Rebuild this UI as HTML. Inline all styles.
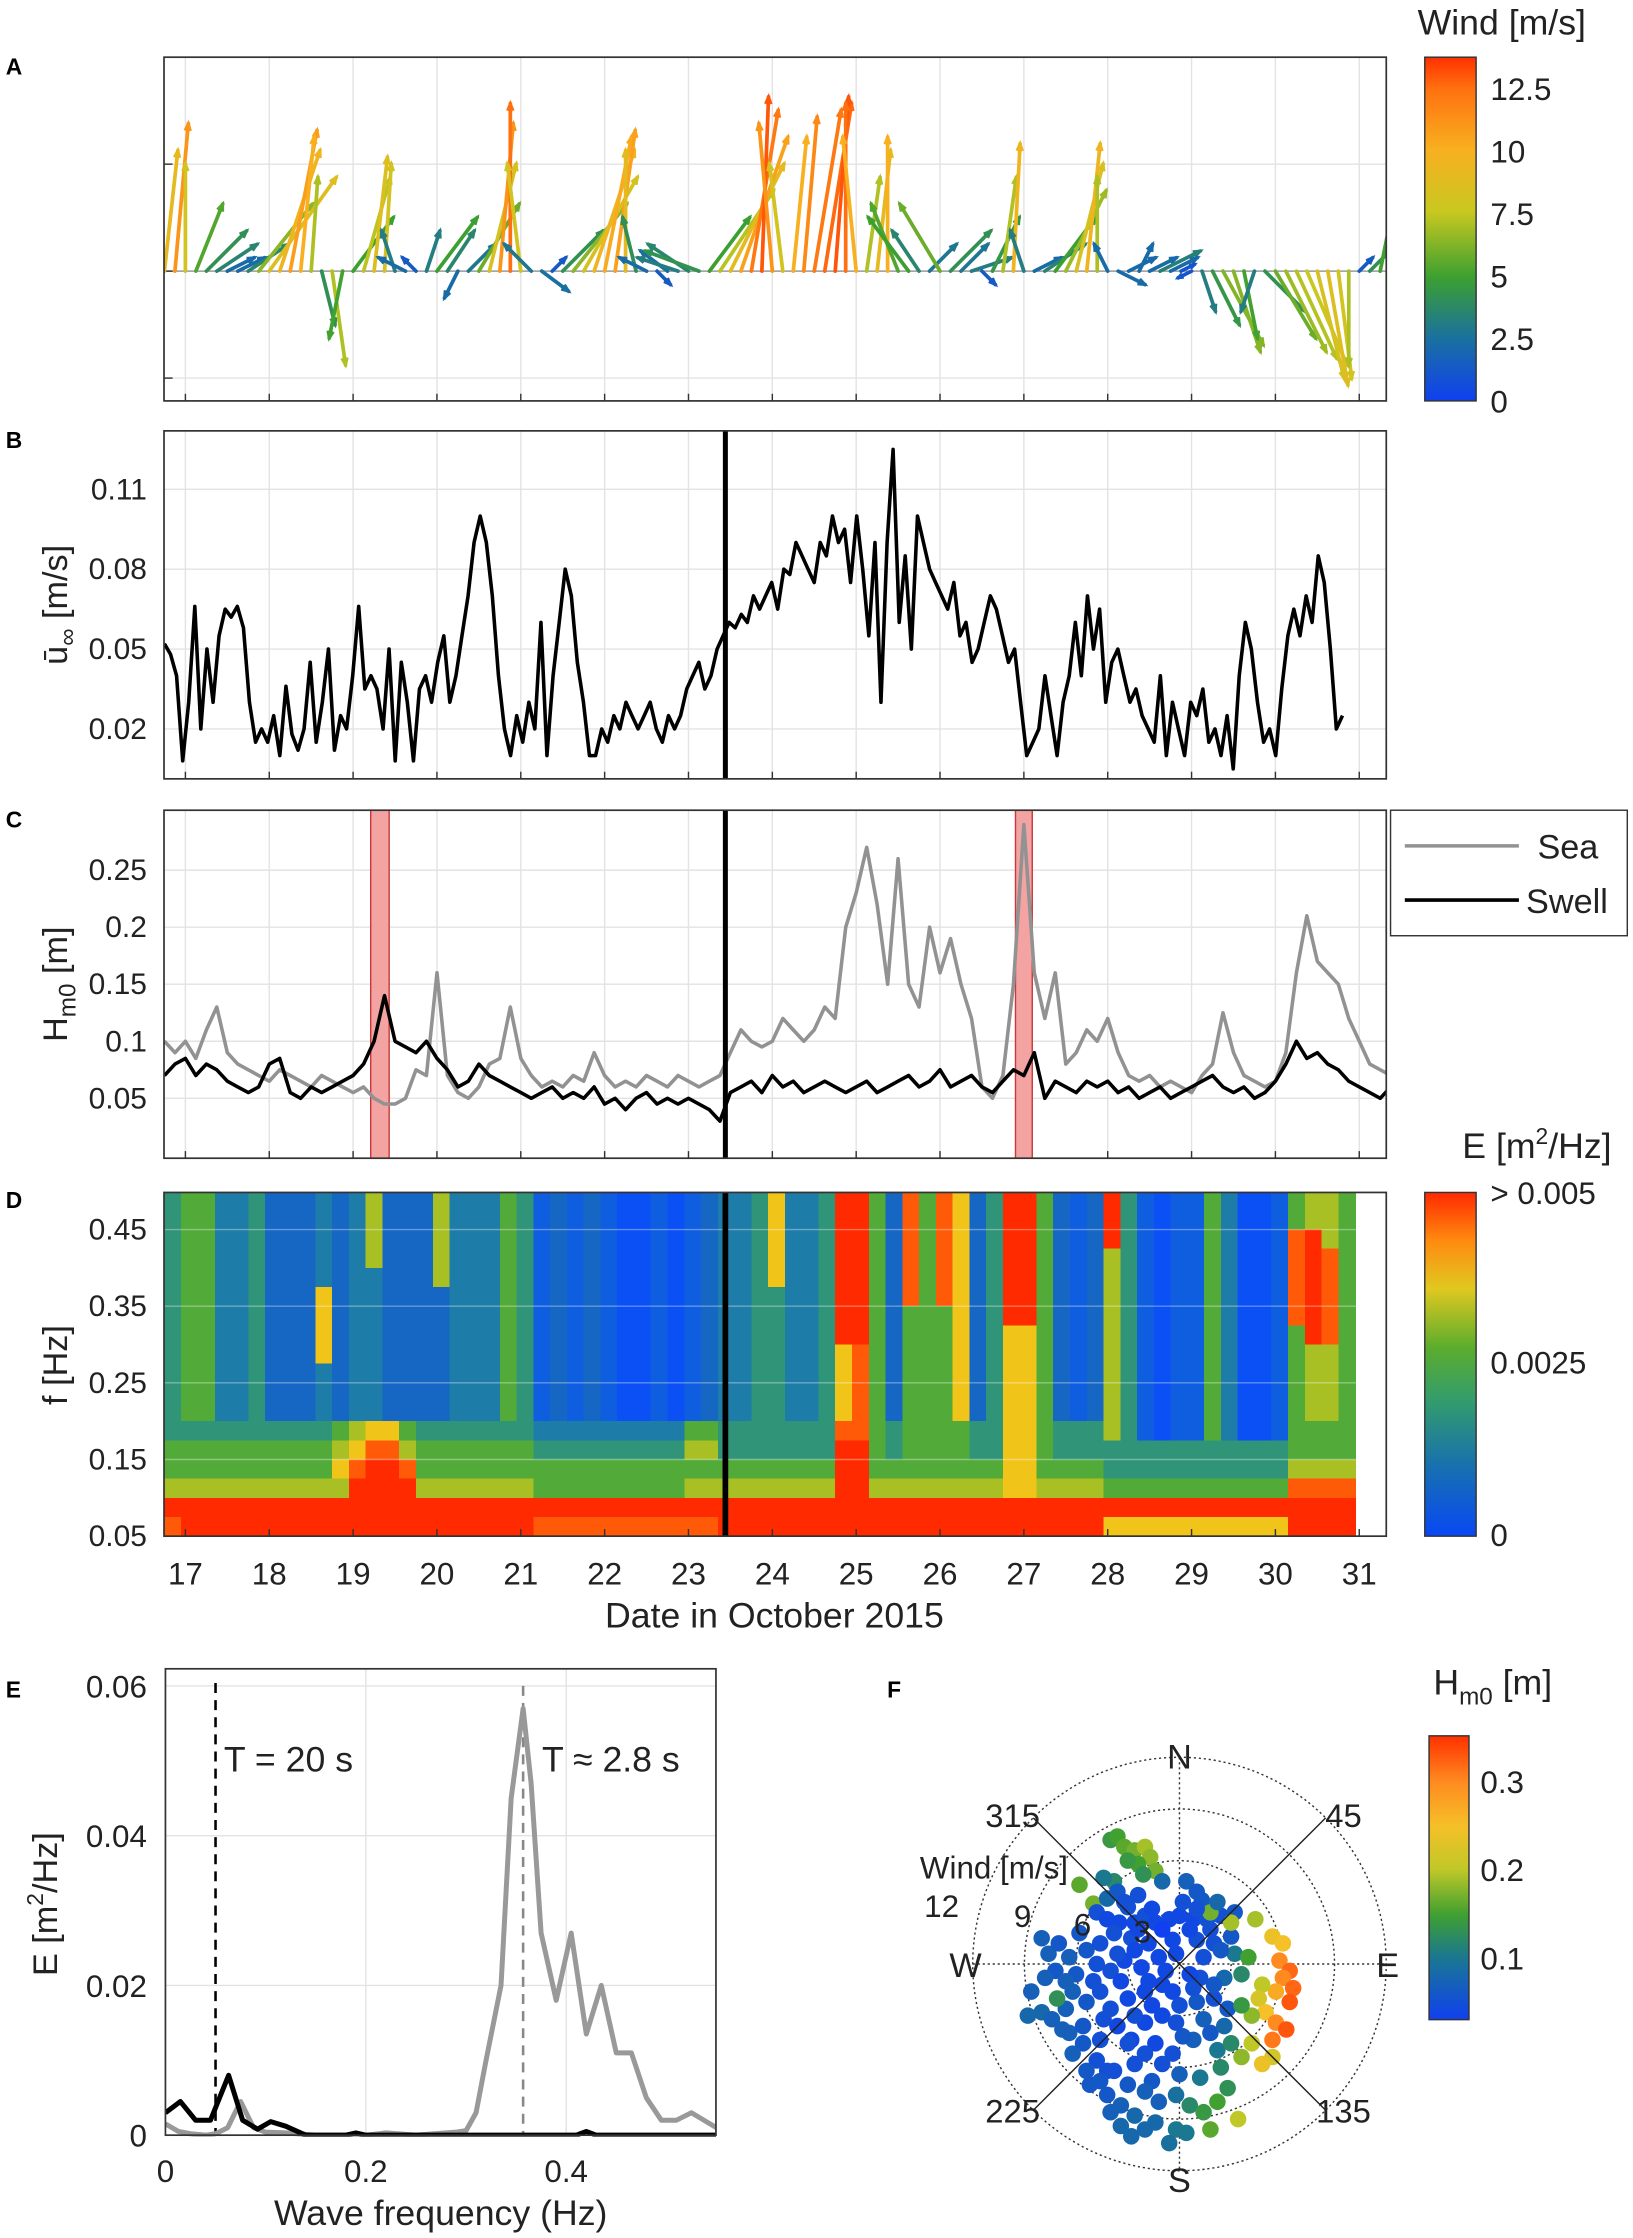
<!DOCTYPE html>
<html><head><meta charset="utf-8"><title>Wind, currents and waves, October 2015</title>
<style>
html,body{margin:0;padding:0;background:#fff;}
svg{display:block;font-family:"Liberation Sans",Arial,sans-serif;}
</style></head>
<body>
<svg id="fig" xmlns="http://www.w3.org/2000/svg" width="1633" height="2238" viewBox="0 0 1145 1569">
<defs>
<linearGradient id="gWind" x1="0" y1="1" x2="0" y2="0">
<stop offset="0" stop-color="#1040f0"/><stop offset="0.18" stop-color="#1a70a0"/><stop offset="0.36" stop-color="#3ca030"/><stop offset="0.55" stop-color="#c8c820"/><stop offset="0.73" stop-color="#f8b020"/><stop offset="0.91" stop-color="#ff7010"/><stop offset="1" stop-color="#ff3000"/>
</linearGradient>
<linearGradient id="gE" x1="0" y1="1" x2="0" y2="0">
<stop offset="0" stop-color="#0848f5"/><stop offset="0.2" stop-color="#1770b0"/><stop offset="0.4" stop-color="#349d6a"/><stop offset="0.55" stop-color="#5cad2c"/><stop offset="0.72" stop-color="#e0c820"/><stop offset="0.86" stop-color="#ff8a10"/><stop offset="1" stop-color="#ff2a00"/>
</linearGradient>
<linearGradient id="gH" x1="0" y1="1" x2="0" y2="0">
<stop offset="0" stop-color="#1040f0"/><stop offset="0.22" stop-color="#1a7890"/><stop offset="0.37" stop-color="#40a030"/><stop offset="0.53" stop-color="#c0c828"/><stop offset="0.68" stop-color="#f5c028"/><stop offset="0.84" stop-color="#ff8a20"/><stop offset="1" stop-color="#ff3000"/>
</linearGradient>
<clipPath id="clipA"><rect x="115" y="40" width="857" height="241"/></clipPath>
<clipPath id="clipB"><rect x="115" y="302" width="857" height="244"/></clipPath>
<clipPath id="clipC"><rect x="115" y="568" width="857" height="244"/></clipPath>
<clipPath id="clipD"><rect x="115" y="836" width="857" height="241"/></clipPath>
<clipPath id="clipE"><rect x="116" y="1170" width="386" height="328"/></clipPath>
</defs>

<text x="4" y="52" font-size="16" font-weight="bold">A</text>
<text x="4" y="314" font-size="16" font-weight="bold">B</text>
<text x="4" y="580" font-size="16" font-weight="bold">C</text>
<text x="4" y="847" font-size="16" font-weight="bold">D</text>
<text x="4" y="1190" font-size="16" font-weight="bold">E</text>
<text x="622" y="1190" font-size="16" font-weight="bold">F</text>

<text x="1112" y="24" font-size="25" text-anchor="end" fill="#222">Wind [m/s]</text>
<text x="1130" y="812" font-size="25" text-anchor="end" fill="#222">E [m<tspan font-size="16" dy="-10">2</tspan><tspan dy="10">/Hz]</tspan></text>
<text x="1005" y="1188" font-size="25" fill="#222">H<tspan font-size="17" dy="7">m0</tspan><tspan dy="-7"> [m]</tspan></text>

<text transform="translate(47,424) rotate(-90)" font-size="24" text-anchor="middle" fill="#222">u&#772;<tspan font-size="17" dy="6">∞</tspan><tspan dy="-6"> [m/s]</tspan></text>
<text transform="translate(47,690) rotate(-90)" font-size="24" text-anchor="middle" fill="#222">H<tspan font-size="17" dy="6">m0</tspan><tspan dy="-6"> [m]</tspan></text>
<text transform="translate(47,957) rotate(-90)" font-size="24" text-anchor="middle" fill="#222">f [Hz]</text>
<text x="543" y="1141" font-size="25" text-anchor="middle" fill="#222">Date in October 2015</text>
<text transform="translate(40,1335) rotate(-90)" font-size="24" text-anchor="middle" fill="#222">E [m<tspan font-size="16" dy="-10">2</tspan><tspan dy="10">/Hz]</tspan></text>
<text x="309" y="1560" font-size="25" text-anchor="middle" fill="#222">Wave frequency (Hz)</text>

<g id="layer"></g>
</svg>

<script>
// ---------------- DATA ----------------
const windStart = 16.75;
const windStep = 0.125;
const windU = [1,1,0,2,3,3,2,2,3,4,5,3,2,1,0.5,1,1,-1,3,2,1,0.5,-1,-2,-1,1,3,2,-1,2,3,2,1,0,-1,-2,2,1,3,4,4,3,2,1.5,0,-1,-2,1,-2,-3,-3,-4,3,4,4,3.5,2,0.5,-1,-1,1,1,2,2,1,0,-1,1,1,0,-2,-3,-2,2,-3,3,2,3,1,2,1,0.5,-1,2,3,3,3,2,1,0,-1,2,2,1,2,3,2,1,-1,1,2,3,2,1,-1,3,3,3,3,3,2,1.5,1,0,1,3,1];
const windV = [9,11,8,5,3,2,1,1,2,5,7,9,10.5,10,7,-4,-7,-5,4,7,8.5,8,3,1,1,3,4,3,-2,2,5,8,11,12.5,8,2,-1.5,1,3,5,7,9,10,10.5,9,4,1,-1,1.5,1,2,1.5,4,6,8,10,12,13,11,8,10,11.5,12,12.5,13,12.5,10,7,9,10,5,4,3,2,5,3,2,1,-1,4,7,9.5,3,1,2,4,6,8,9.5,7,2,-1,1,2,1,1.5,1,0.5,-0.5,-3,-4,-5.5,-6,-5,-3,-3,-5,-6,-6.5,-7,-8,-8.5,-8,-7,1,3,5];

const curStart = 16.75;
const curEnd = 30.8;
const curSpeed = [0.052,0.048,0.040,0.008,0.030,0.066,0.020,0.050,0.030,0.055,0.065,0.062,0.066,0.058,0.030,0.015,
0.020,0.015,0.025,0.010,0.036,0.018,0.012,0.020,0.045,0.015,0.030,0.050,0.012,0.025,
0.020,0.040,0.066,0.035,0.040,0.035,0.020,0.050,0.008,0.045,0.030,0.008,
0.035,0.040,0.030,0.045,0.055,0.030,0.040,0.055,0.070,0.090,0.100,0.090,0.070,0.040,
0.020,0.010,0.025,0.015,0.030,0.020,0.060,0.010,0.040,0.060,0.080,0.070,0.045,0.030,0.010,
0.010,0.020,0.015,0.025,0.020,0.030,0.025,0.020,0.025,0.030,0.020,0.015,0.025,0.020,
0.025,0.035,0.040,0.045,0.035,0.040,0.050,0.055,0.060,0.058,0.063,0.060,0.070,0.065,
0.070,0.075,0.065,0.080,0.078,0.090,0.085,0.080,0.075,0.090,0.085,0.100,0.090,0.095,
0.075,0.100,0.080,0.055,0.090,0.030,0.090,0.125,0.060,0.085,0.050,0.100,0.090,0.080,0.075,
0.070,0.065,0.075,0.055,0.060,0.045,0.050,0.060,0.070,0.065,0.055,0.045,0.050,0.030,
0.010,0.015,0.020,0.040,0.025,0.010,0.030,0.040,0.060,0.040,0.070,0.050,0.065,0.030,
0.045,0.050,0.040,0.030,0.035,0.025,0.020,0.015,0.040,0.010,0.030,0.020,0.010,0.030,
0.025,0.035,0.015,0.020,0.010,0.025,0.005,0.040,0.060,0.050,0.030,0.015,0.020,0.010,
0.035,0.055,0.065,0.055,0.070,0.060,0.085,0.075,0.050,0.020,0.025];
const curTicks = [0.02,0.05,0.08,0.11];

const hsStart = 16.75;
const hsStep = 0.125;
const hsSea = [0.10,0.09,0.10,0.085,0.11,0.13,0.09,0.08,0.075,0.07,0.065,0.075,0.07,0.065,0.06,0.07,0.065,0.06,0.055,0.06,0.05,0.045,0.045,0.05,0.075,0.07,0.16,0.07,0.055,0.05,0.06,0.08,0.085,0.13,0.085,0.07,0.06,0.065,0.06,0.07,0.065,0.09,0.07,0.06,0.065,0.06,0.07,0.065,0.06,0.07,0.065,0.06,0.065,0.07,0.09,0.11,0.1,0.095,0.1,0.12,0.11,0.1,0.11,0.13,0.12,0.2,0.23,0.27,0.22,0.15,0.26,0.15,0.13,0.2,0.16,0.19,0.15,0.12,0.06,0.05,0.07,0.15,0.29,0.16,0.12,0.16,0.08,0.09,0.11,0.1,0.12,0.09,0.07,0.065,0.07,0.06,0.065,0.06,0.055,0.07,0.08,0.125,0.09,0.07,0.065,0.06,0.065,0.09,0.16,0.21,0.17,0.16,0.15,0.12,0.1,0.08,0.075,0.07];
const hsSwell = [0.07,0.08,0.085,0.07,0.08,0.075,0.065,0.06,0.055,0.06,0.08,0.085,0.055,0.05,0.06,0.055,0.06,0.065,0.07,0.08,0.1,0.14,0.1,0.095,0.09,0.1,0.085,0.075,0.06,0.065,0.08,0.07,0.065,0.06,0.055,0.05,0.055,0.06,0.05,0.055,0.05,0.06,0.045,0.05,0.04,0.05,0.055,0.045,0.05,0.045,0.05,0.045,0.04,0.03,0.055,0.06,0.065,0.055,0.07,0.06,0.065,0.055,0.06,0.065,0.06,0.055,0.06,0.065,0.055,0.06,0.065,0.07,0.06,0.065,0.075,0.06,0.065,0.07,0.06,0.055,0.065,0.075,0.07,0.09,0.05,0.065,0.06,0.055,0.065,0.06,0.065,0.055,0.06,0.05,0.055,0.06,0.05,0.055,0.06,0.065,0.07,0.06,0.055,0.06,0.05,0.055,0.065,0.08,0.1,0.085,0.09,0.08,0.075,0.065,0.06,0.055,0.05,0.06];
const hsTicks = [0.05,0.1,0.15,0.2,0.25];
const stormWindows = [[19.21,19.43],[26.9,27.1]];
const markerDay = 23.44;

// Panel D: spectrogram levels (0..9), 0.2-day columns (71), 0.025 Hz rows, top row first
const specStart = 16.75;
const specColDays = 0.2;
const specFmin = 0.05;
const specRowHz = 0.025;
const specRows = [
"4553342223"+"2362226333"+"5412121001"+"0123347334"+"9952858724"+"9952129410"+"1153001566"+"5",
"4553342223"+"2362226333"+"5412121001"+"0123347334"+"9952858724"+"9952129410"+"1153001566"+"5",
"4553342223"+"2362226333"+"5412121001"+"0123347334"+"9952858724"+"9952129410"+"1153001896"+"5",
"4553342223"+"2362226333"+"5412121001"+"0123347334"+"9952858724"+"9952126410"+"1153001898"+"5",
"4553342223"+"2332226333"+"5412121001"+"0123347334"+"9952858724"+"9952126410"+"1153001898"+"5",
"4553342227"+"2332222333"+"5412121001"+"0123344334"+"9952858724"+"9952126410"+"1153001898"+"5",
"4553342227"+"2332222333"+"5412121001"+"0123344334"+"9952555724"+"9952126410"+"1153001898"+"5",
"4553342227"+"2332222333"+"5412121001"+"0123344334"+"9952555724"+"7752126410"+"1153001598"+"5",
"4553342227"+"2332222333"+"5412121001"+"0123344334"+"7852555724"+"7752126410"+"1153001566"+"5",
"4553342223"+"2332222333"+"5412121001"+"0123344334"+"7852555724"+"7752126410"+"1153001566"+"5",
"4553342223"+"2332222333"+"5412121001"+"0123344334"+"7852555724"+"7752126410"+"1153001566"+"5",
"4553342223"+"2332222333"+"5412121001"+"0123344334"+"7852555724"+"7752126410"+"1153001566"+"5",
"4444444444"+"5677544444"+"4433333333"+"3554444444"+"8854555544"+"7754446410"+"1153001555"+"5",
"5555555555"+"6788655555"+"5544444444"+"4664444444"+"9954555544"+"7754444444"+"4444444555"+"5",
"5555555555"+"7899855555"+"5555555555"+"5555555555"+"9955555555"+"7755554444"+"4444444666"+"6",
"6666666666"+"6999966666"+"6655555555"+"5666666666"+"9966666666"+"7766665555"+"5555555888"+"8",
"9999999999"+"9999999999"+"9999999999"+"9999999999"+"9999999999"+"9999999999"+"9999999999"+"9",
"8999999999"+"9999999999"+"9988888888"+"8889999999"+"9999999999"+"9999997777"+"7777777999"+"9"
];
const energyTicks = ["> 0.005","0.0025","0"];

const seaFreq = [0,0.013,0.025,0.04,0.05,0.062,0.075,0.088,0.1,0.12,0.15,0.2,0.22,0.25,0.29,0.3,0.31,0.32,0.335,0.345,0.357,0.365,0.375,0.39,0.405,0.42,0.435,0.45,0.465,0.48,0.495,0.51,0.525,0.55];
const seaE = [0.0015,0.0005,0.0002,0,0.0002,0.001,0.0045,0.001,0.0004,0.0003,0,0,0.0003,0,0.0004,0.0006,0.003,0.01,0.02,0.045,0.057,0.047,0.027,0.018,0.027,0.0135,0.02,0.011,0.011,0.005,0.002,0.002,0.003,0.001];
const swellFreq = [0,0.015,0.03,0.045,0.063,0.077,0.092,0.105,0.12,0.14,0.18,0.19,0.2,0.3,0.41,0.42,0.43,0.55];
const swellE = [0.003,0.0045,0.002,0.002,0.008,0.002,0.0008,0.0018,0.0012,0,0,0.0003,0,0,0,0.0005,0,0];
const eYTicks = [0,0.02,0.04,0.06];
const eXTicks = [0,0.2,0.4];
const swellPeriodHz = 0.05;
const seaPeakHz = 0.357;

const fU = [-4,-3.6,-3.2,-2.6,-2,-1.7,-2.4,-3,-1.4,-2.1,-3.8,-4.4,-1,0.4,1,1.3,-5.8,-5,-4.2,-3.6,-3,
-4.8,-4.2,-3.5,-2.6,-2,-1.4,-0.6,0,0.8,1.6,2.4,3.2,-2.8,-1.8,-0.4,1,2,3,
-8,-7.6,-7,-6.4,-5.8,-5.4,-4.8,-7.2,-6,-5,-4,-3.2,-2.2,-1.2,
-8.6,-8.8,-8,-7.4,-6.6,-6.2,-5.4,-4.6,-4,-3,-2,-1,-7.1,
-3.6,-2.8,-2,-1,0,1,2,2.8,-1.4,-0.4,0.8,1.8,2.6,-4.6,-5.6,-4.8,-3.8,-2.6,-6.4,
-5.2,-4.2,-3.4,-2.6,-2,-3.4,-1.2,-0.2,0.6,1.4,2.2,2.8,1.2,2.4,-1.6,-0.2,-4.2,1.8,3.4,
1.8,3,4.4,5.4,6,5.8,6.4,6,6.6,6.4,5.6,4.8,4.6,5,5.6,6.2,5.4,4.2,3.6,4.2,5.4,4.8,3.6,3.6,2.6,3.2,4,2.4,1.4,1.2,
-2.4,-1,0.6,1.8,-3.8,-0.2,0.6,-0.8,-1.6,-2.6,-3.4,-5.6,-6.8,-4.6,-3,-2,-1,0.2,-0.2,1.4,2.2,3,-6.2,-5.4,-4,-2.8,-1.4,0.4,-0.6,-6.6,-7.8,-3.2,-2.4,-1.6,0.2,1,2.2,-4.6,-3.6,-2.6,-1.8,-0.4,0.8,2,-3,-2,0,-4.4];
const fV = [7.2,7.4,6.8,6.6,6.8,6.2,5.8,6,5.4,5.2,4.8,5,4.8,4.8,4.2,3.7,4.6,3.5,3.8,4.2,3.3,
3,2.6,2.4,2.4,2.8,2.4,2.6,2.8,2.6,2.6,2.8,3,1.5,1.2,1.4,1.4,1.2,1.6,
1.5,0.6,1.2,0.4,1.8,0.8,0,-0.4,-0.6,-1,-0.4,0.2,-0.2,0.4,
-1.6,-3,-2.8,-3.2,-2.6,-1.6,-2.2,-1.6,-2.6,-2,-1.6,-1.2,-2,
-3.6,-4.4,-3.4,-3,-2.4,-2.2,-2,-2.6,-4.6,-5.2,-4.4,-4,-3.6,-4.4,-4.6,-5.6,-6.2,-5.8,-4,
-7,-7.6,-8.2,-8.8,-9.6,-9.4,-8,-7.6,-8.2,-8.6,-8,-7.2,-6.6,-6,-6.8,-9.6,-6.2,-9.6,-9,
3,2.4,2.6,1.6,1.2,0.2,-0.4,-0.8,-1.4,-2.2,-1.6,-1.2,-2,-2.8,-3.4,-3.8,-4.4,-3,-2.4,-4.6,-5.4,-5.8,-5.4,-0.6,-0.8,0.6,0.4,0.8,0.4,-0.8,
2,2,2,2,1.8,0.6,-0.6,-0.4,-2.4,-3,-1,-3.6,-3.8,-6.8,-7,-7.4,-5.8,-4.2,-3.4,-3.2,-5,-4.6,-5.2,-6.2,-8.6,-10,-9.2,-9.8,-10.4,-1,-0.8,3.6,4,3.2,3.6,3.2,3.6,1.2,0.6,0.8,-1,-1.6,-1.4,-1.2,-4.6,-5.2,-6.4,-3.2];
const fHm0 = [0.14,0.15,0.16,0.17,0.19,0.18,0.15,0.14,0.17,0.13,0.12,0.1,0.08,0.07,0.06,0.06,0.16,0.17,0.08,0.06,0.05,
0.05,0.04,0.04,0.04,0.05,0.04,0.04,0.04,0.04,0.05,0.05,0.06,0.05,0.04,0.04,0.05,0.05,0.06,
0.07,0.07,0.06,0.07,0.06,0.06,0.05,0.06,0.06,0.05,0.05,0.04,0.04,0.04,
0.07,0.08,0.08,0.07,0.07,0.07,0.06,0.05,0.05,0.04,0.04,0.04,0.13,
0.04,0.04,0.04,0.04,0.05,0.06,0.05,0.06,0.04,0.05,0.07,0.06,0.08,0.05,0.06,0.05,0.05,0.05,0.07,
0.06,0.06,0.07,0.08,0.08,0.08,0.07,0.09,0.12,0.14,0.15,0.13,0.1,0.12,0.06,0.1,0.05,0.16,0.2,
0.17,0.19,0.19,0.24,0.25,0.3,0.32,0.3,0.32,0.33,0.27,0.2,0.22,0.25,0.3,0.33,0.31,0.18,0.14,0.2,0.22,0.24,0.18,0.12,0.08,0.1,0.15,0.06,0.05,0.05,
0.04,0.03,0.04,0.05,0.05,0.04,0.04,0.04,0.04,0.05,0.04,0.06,0.07,0.06,0.06,0.07,0.05,0.06,0.05,0.07,0.1,0.12,0.07,0.06,0.07,0.08,0.08,0.1,0.09,0.07,0.07,0.05,0.05,0.04,0.05,0.05,0.08,0.05,0.05,0.04,0.04,0.04,0.05,0.06,0.05,0.05,0.07,0.05];
const windRings = [3,6,9,12];
const hm0Ticks = [0.1,0.2,0.3];

// ---------------- HELPERS ----------------
const NS = "http://www.w3.org/2000/svg";
const layer = document.getElementById("layer");
function mk(tag, attrs, parent) {
  const el = document.createElementNS(NS, tag);
  for (const k in attrs) el.setAttribute(k, attrs[k]);
  (parent || layer).appendChild(el);
  return el;
}
function grp(name, parent) {
  const g = mk("g", {}, parent);
  
  
  return g;
}
function lerpColor(stops, t) {
  if (t <= stops[0][0]) return "rgb(" + stops[0].slice(1).join(",") + ")";
  for (let i = 1; i < stops.length; i++) {
    if (t <= stops[i][0]) {
      const a = stops[i - 1], b = stops[i];
      const f = (t - a[0]) / (b[0] - a[0]);
      return "rgb(" + [1, 2, 3].map(j => Math.round(a[j] + (b[j] - a[j]) * f)).join(",") + ")";
    }
  }
  return "rgb(" + stops[stops.length - 1].slice(1).join(",") + ")";
}
const windStops = [[0,16,64,240],[2.5,26,112,160],[5,60,160,48],[7.5,200,200,32],[10,248,176,32],[12.5,255,112,16],[13.75,255,48,0]];
const hmStops = [[0.03,16,64,240],[0.1,26,120,144],[0.15,64,160,48],[0.2,192,200,40],[0.25,245,192,40],[0.3,255,138,32],[0.352,255,48,0]];
const specColors = ["#0a50f5","#0f5ee0","#1666c4","#1e7ca8","#2f9478","#52aa38","#a8c024","#f0c418","#ff5a08","#ff2a00"];

const xDay = d => 130 + (d - 17) * 58.79;
const days = [17,18,19,20,21,22,23,24,25,26,27,28,29,30,31];
const GRID = "#e3e3e3";

function dayGrid(g, y0, y1) {
  days.forEach(d => {
    const l = mk("line", {x1: xDay(d), x2: xDay(d), y1: y0, y2: y1, stroke: GRID, "stroke-width": 1}, g);
    
    
    const t1 = mk("line", {x1: xDay(d), x2: xDay(d), y1: y1, y2: y1 - 5, stroke: "#333", "stroke-width": 1}, g);
    
    
  });
}
function box(g, x, y, w, h, name) {
  const r = mk("rect", {x: x, y: y, width: w, height: h, fill: "none", stroke: "#333", "stroke-width": 1.2}, g);
  
  
}
function label(g, x, y, txt, anchor, size, name) {
  const t = mk("text", {x: x, y: y, "font-size": size || 21, "text-anchor": anchor || "end", fill: "#222"}, g);
  t.textContent = txt;
  
  
  return t;
}

// ---------------- PANEL A ----------------
(function () {
  const g = grp("panel-a-wind-sticks");
  dayGrid(g, 40, 281);
  [115, 190, 265].forEach(y => {
    const l = mk("line", {x1: 115, x2: 972, y1: y, y2: y, stroke: y === 190 ? "#999" : GRID, "stroke-width": 1}, g);
    
    
    const t = mk("line", {x1: 115, x2: 121, y1: y, y2: y, stroke: "#333"}, g);
    
    
  });
  const sg = grp("wind-stick-series", g);
  sg.setAttribute("clip-path", "url(#clipA)");
  const k = 9.4, y0 = 190;
  for (let i = 0; i < windU.length; i++) {
    const u = windU[i], v = windV[i];
    const x0 = xDay(windStart + i * windStep);
    const x1 = x0 + u * k, y1 = y0 - v * k;
    const s = Math.sqrt(u * u + v * v);
    const c = lerpColor(windStops, s);
    const st = mk("line", {x1: x0, y1: y0, x2: x1, y2: y1, stroke: c, "stroke-width": 2.6, "stroke-linecap": "round"}, sg);
    
    
    const len = Math.max(s * k, 0.01), ux = (x1 - x0) / len, uy = (y1 - y0) / len;
    const h = Math.min(5, len * 0.35);
    const hx1 = x1 - h * ux + h * 0.4 * uy, hy1 = y1 - h * uy - h * 0.4 * ux;
    const hx2 = x1 - h * ux - h * 0.4 * uy, hy2 = y1 - h * uy + h * 0.4 * ux;
    const hd = mk("path", {d: `M${hx1},${hy1}L${x1},${y1}L${hx2},${hy2}`, fill: "none", stroke: c, "stroke-width": 2}, sg);
    
    
  }
  box(g, 115, 40, 857, 241, "panel-a-frame");
  const cb = mk("rect", {x: 999, y: 40, width: 36, height: 241, fill: "url(#gWind)", stroke: "#333", "stroke-width": 1}, g);
  
  
  [0, 2.5, 5, 7.5, 10, 12.5].forEach(v => {
    const y = 281 - v / 13.75 * 241;
    label(g, 1045, y + 8, String(v), "start", 22, "wind-colorbar-label");
  });
})();

// ---------------- PANEL B ----------------
const yB = v => 455 - (v - 0.05) * 1866.7;
(function () {
  const g = grp("panel-b-current-speed");
  dayGrid(g, 302, 546);
  curTicks.forEach(v => {
    const l = mk("line", {x1: 115, x2: 972, y1: yB(v), y2: yB(v), stroke: GRID}, g);
    
    
    label(g, 103, yB(v) + 7, String(v), "end", 21, "y-tick-label-b");
  });
  const step = (curEnd - curStart) / (curSpeed.length - 1);
  const pts = curSpeed.map((v, i) => xDay(curStart + i * step).toFixed(1) + "," + yB(v).toFixed(1)).join(" ");
  const pl = mk("polyline", {points: pts, fill: "none", stroke: "#000", "stroke-width": 2.5, "stroke-linejoin": "round", "clip-path": "url(#clipB)"}, g);
  
  
  const m = mk("line", {x1: xDay(markerDay), x2: xDay(markerDay), y1: 302, y2: 546, stroke: "#000", "stroke-width": 3.5}, g);
  
  
  box(g, 115, 302, 857, 244, "panel-b-frame");
})();

// ---------------- PANEL C ----------------
const yC = v => 770 - (v - 0.05) * 800;
(function () {
  const g = grp("panel-c-wave-height");
  dayGrid(g, 568, 812);
  hsTicks.forEach(v => {
    const l = mk("line", {x1: 115, x2: 972, y1: yC(v), y2: yC(v), stroke: GRID}, g);
    
    
    label(g, 103, yC(v) + 7, String(v), "end", 21, "y-tick-label-c");
  });
  stormWindows.forEach(w => {
    const r = mk("rect", {x: xDay(w[0]), y: 568, width: xDay(w[1]) - xDay(w[0]), height: 244, fill: "#f4a3a3", stroke: "#c83a3a", "stroke-width": 1}, g);
    
    
  });
  const cg = grp("wave-height-series", g);
  cg.setAttribute("clip-path", "url(#clipC)");
  const sea = hsSea.map((v, i) => xDay(hsStart + i * hsStep).toFixed(1) + "," + yC(v).toFixed(1)).join(" ");
  const swell = hsSwell.map((v, i) => xDay(hsStart + i * hsStep).toFixed(1) + "," + yC(v).toFixed(1)).join(" ");
  const p1 = mk("polyline", {points: sea, fill: "none", stroke: "#929292", "stroke-width": 2.5, "stroke-linejoin": "round"}, cg);
  
  
  const p2 = mk("polyline", {points: swell, fill: "none", stroke: "#000", "stroke-width": 2.5, "stroke-linejoin": "round"}, cg);
  
  
  const m = mk("line", {x1: xDay(markerDay), x2: xDay(markerDay), y1: 568, y2: 812, stroke: "#000", "stroke-width": 3.5}, g);
  
  
  box(g, 115, 568, 857, 244, "panel-c-frame");
  const lg = grp("legend", g);
  const lb = mk("rect", {x: 975, y: 568, width: 166, height: 88, fill: "#fff", stroke: "#333", "stroke-width": 1}, lg);
  
  
  const l1 = mk("line", {x1: 985, x2: 1065, y1: 593, y2: 593, stroke: "#929292", "stroke-width": 2.5}, lg);
  
  
  label(lg, 1078, 602, "Sea", "start", 24, "legend-entry-sea");
  const l2 = mk("line", {x1: 985, x2: 1065, y1: 631, y2: 631, stroke: "#000", "stroke-width": 2.5}, lg);
  
  
  label(lg, 1070, 640, "Swell", "start", 24, "legend-entry-swell");
})();

// ---------------- PANEL D ----------------
const yD = f => 1077 - (f - 0.05) * 537.5;
(function () {
  const g = grp("panel-d-spectrogram");
  const hg = grp("spectrogram-cells", g);
  hg.setAttribute("clip-path", "url(#clipD)");
  hg.setAttribute("shape-rendering", "crispEdges");
  const nR = specRows.length;
  for (let r = 0; r < nR; r++) {
    const row = specRows[r];
    const f0 = specFmin + (nR - 1 - r) * specRowHz;
    const yTop = yD(f0 + specRowHz), yBot = yD(f0);
    for (let c = 0; c < row.length; c++) {
      const lv = parseInt(row[c], 10);
      const xa = xDay(specStart + c * specColDays), xb = xDay(specStart + (c + 1) * specColDays);
      const cell = mk("rect", {x: xa.toFixed(2), y: yTop.toFixed(2), width: (xb - xa + 0.6).toFixed(2), height: (yBot - yTop + 0.6).toFixed(2), fill: specColors[lv]}, hg);
      
      
    }
  }
  [0.05, 0.15, 0.25, 0.35, 0.45].forEach(f => {
    const l = mk("line", {x1: 115, x2: 972, y1: yD(f), y2: yD(f), stroke: "#ffffff", "stroke-opacity": 0.35}, g);
    
    
    label(g, 103, yD(f) + 7, String(f), "end", 21, "y-tick-label-d");
  });
  days.forEach(d => {
    const t = mk("line", {x1: xDay(d), x2: xDay(d), y1: 1077, y2: 1072, stroke: "#333"}, g);
    
    
    label(g, xDay(d), 1111, String(d), "middle", 22, "x-tick-label-date");
  });
  const m = mk("line", {x1: xDay(markerDay), x2: xDay(markerDay), y1: 836, y2: 1077, stroke: "#000", "stroke-width": 4}, g);
  
  
  box(g, 115, 836, 857, 241, "panel-d-frame");
  const cb = mk("rect", {x: 999, y: 836, width: 36, height: 241, fill: "url(#gE)", stroke: "#333", "stroke-width": 1}, g);
  
  
  [844, 963, 1084].forEach((y, i) => label(g, 1045, y, energyTicks[i], "start", 22, "energy-colorbar-label"));
})();

// ---------------- PANEL E ----------------
const xE = f => 116 + f * 702.5;
const yE = v => 1497 - v * 5250;
(function () {
  const g = grp("panel-e-spectra");
  eXTicks.forEach(f => {
    if (f > 0) {
      const l = mk("line", {x1: xE(f), x2: xE(f), y1: 1170, y2: 1497, stroke: GRID}, g);
      
      
    }
    label(g, xE(f), 1530, String(f), "middle", 22, "x-tick-label-e");
  });
  eYTicks.forEach(v => {
    if (v > 0) {
      const l = mk("line", {x1: 116, x2: 502, y1: yE(v), y2: yE(v), stroke: GRID}, g);
      
      
    }
    label(g, 103, yE(v) + 8, String(v), "end", 22, "y-tick-label-e");
  });
  const d1 = mk("line", {x1: xE(swellPeriodHz), x2: xE(swellPeriodHz), y1: 1180, y2: 1497, stroke: "#000", "stroke-width": 1.8, "stroke-dasharray": "7 5"}, g);
  
  
  const d2 = mk("line", {x1: xE(seaPeakHz), x2: xE(seaPeakHz), y1: 1182, y2: 1497, stroke: "#888", "stroke-width": 1.8, "stroke-dasharray": "7 5"}, g);
  
  
  const cg = grp("spectrum-series", g);
  cg.setAttribute("clip-path", "url(#clipE)");
  const p1 = mk("polyline", {points: seaFreq.map((f, i) => xE(f).toFixed(1) + "," + yE(seaE[i]).toFixed(1)).join(" "), fill: "none", stroke: "#999", "stroke-width": 3.5, "stroke-linejoin": "round"}, cg);
  
  
  const p2 = mk("polyline", {points: swellFreq.map((f, i) => xE(f).toFixed(1) + "," + yE(swellE[i]).toFixed(1)).join(" "), fill: "none", stroke: "#000", "stroke-width": 3.5, "stroke-linejoin": "round"}, cg);
  
  
  label(g, 157, 1242, "T = 20 s", "start", 25, "swell-period-annotation");
  label(g, 380, 1242, "T ≈ 2.8 s", "start", 25, "sea-period-annotation");
  box(g, 116, 1170, 386, 327, "panel-e-frame");
})();

// ---------------- PANEL F ----------------
(function () {
  const g = grp("panel-f-polar-scatter");
  const cx = 827, cy = 1377, k = 12.08;
  windRings.forEach(s => {
    const c = mk("circle", {cx: cx, cy: cy, r: s * k, fill: "none", stroke: "#333", "stroke-width": 1, "stroke-dasharray": "1.5 2"}, g);
    
    
  });
  const R = 12 * k;
  const a1 = mk("line", {x1: cx, x2: cx, y1: cy - R, y2: cy + R, stroke: "#333", "stroke-dasharray": "1.5 2"}, g);
  
  
  const a2 = mk("line", {x1: cx - R, x2: cx + R, y1: cy, y2: cy, stroke: "#333", "stroke-dasharray": "1.5 2"}, g);
  
  
  const sg = grp("wind-hm0-points", g);
  for (let i = 0; i < fU.length; i++) {
    const p = mk("circle", {cx: (cx + fU[i] * k).toFixed(1), cy: (cy - fV[i] * k).toFixed(1), r: 5.8, fill: lerpColor(hmStops, fHm0[i])}, sg);
    
    
  }
  const dg = R * Math.SQRT1_2;
  [[1, 1], [1, -1]].forEach(s => {
    const l = mk("line", {x1: cx - dg * s[0], y1: cy - dg * s[1], x2: cx + dg * s[0], y2: cy + dg * s[1], stroke: "#222", "stroke-width": 1}, g);
    
    
  });
  label(g, cx, 1240, "N", "middle", 24, "compass-label-n");
  label(g, cx, 1537, "S", "middle", 24, "compass-label-s");
  label(g, 677, 1386, "W", "middle", 24, "compass-label-w");
  label(g, 973, 1386, "E", "middle", 24, "compass-label-e");
  label(g, 710, 1281, "315", "middle", 23, "angle-label");
  label(g, 942, 1281, "45", "middle", 23, "angle-label");
  label(g, 710, 1488, "225", "middle", 23, "angle-label");
  label(g, 942, 1488, "135", "middle", 23, "angle-label");
  label(g, 645, 1317, "Wind [m/s]", "start", 22, "speed-axis-title");
  label(g, 648, 1344, "12", "start", 22, "speed-ring-label");
  label(g, 717, 1351, "9", "middle", 22, "speed-ring-label");
  label(g, 759, 1357, "6", "middle", 22, "speed-ring-label");
  label(g, 801, 1362, "3", "middle", 22, "speed-ring-label");
  const cb = mk("rect", {x: 1002, y: 1217, width: 28, height: 199, fill: "url(#gH)", stroke: "#333", "stroke-width": 1}, g);
  
  
  hm0Ticks.forEach(v => {
    const y = 1416 - (v - 0.03) / (0.352 - 0.03) * 199;
    label(g, 1038, y + 8, String(v), "start", 22, "hm0-colorbar-label");
  });
})();
</script>
</body></html>
